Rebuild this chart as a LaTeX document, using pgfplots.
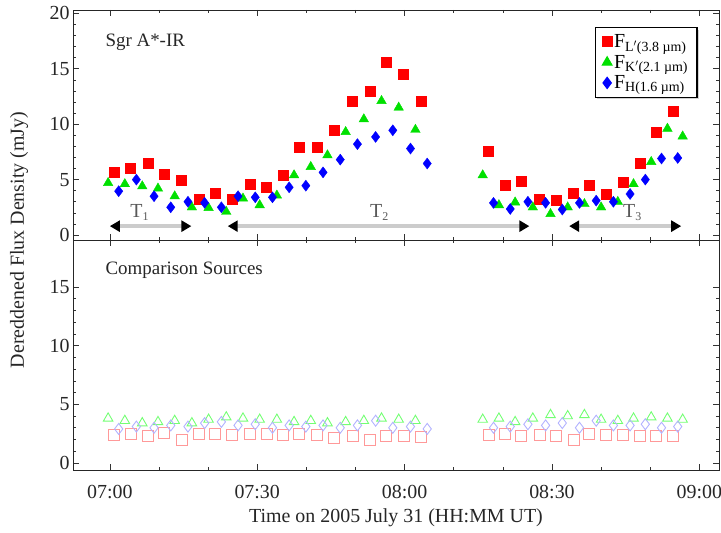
\documentclass[border=0pt]{standalone}
\usepackage{fontspec}
\setmainfont{Liberation Serif}
\usepackage{pgfplots}
\pgfplotsset{compat=1.18}
\usetikzlibrary{arrows.meta,shadows}
\definecolor{mred}{rgb}{1,0,0}
\definecolor{mgreen}{rgb}{0,0.88,0}
\definecolor{mblue}{rgb}{0,0,1}
\pgfplotsset{
  panel/.style={
    scale only axis, width=646bp, height=230bp,
    xmin=-7.5, xmax=124,
    xtick={0,30,60,90,120}, minor x tick num=2,
    minor y tick num=4,
    tick align=inside, xtick pos=both, ytick pos=both,
    major tick length=6bp, minor tick length=3bp,
    axis line style={black!85, line width=0.9pt},
    every tick/.style={black!80, line width=0.6pt},
    /pgf/number format/assume math mode=true,
    tick label style={font=\fontsize{20}{22}\selectfont, text=black!85},
  }
}
\begin{document}
\begin{tikzpicture}
\useasboundingbox (0,0) rectangle (721bp,533bp);
% ---------- top panel ----------
\begin{axis}[panel, at={(73bp,293bp)}, anchor=south west,
  ymin=-0.45, ymax=20.3, ytick={0,5,10,15,20},
  xticklabels={},
  legend style={at={(0.967,0.926)}, anchor=north east, draw=black,
    line width=1.2pt, fill=white,
    drop shadow={shadow xshift=2pt, shadow yshift=-2pt, fill=gray!70},
    font=\fontsize{20}{20}\selectfont, row sep=2pt, inner xsep=7pt, inner ysep=5pt,
    legend cell align=left},
]
\addplot[only marks, mark=square*, mark size=5bp, color=mred] coordinates {
(0.9,5.65) (4.2,6.0) (7.8,6.45) (11.0,5.45) (14.6,4.95) (18.2,3.24) (21.4,3.8)
(24.9,3.2) (28.5,4.58) (31.9,4.3) (35.2,5.4) (38.5,7.94) (42.2,7.94) (45.6,9.45)
(49.4,12.1) (52.9,13.0) (56.3,15.6) (59.8,14.5) (63.4,12.1)
(77.1,7.6) (80.5,4.45) (83.7,4.85) (87.5,3.2) (90.8,3.1) (94.4,3.8) (97.6,4.45)
(101.0,3.7) (104.5,4.8) (107.9,6.45) (111.2,9.3) (114.7,11.2)
};
\addlegendentry{F\textsubscript{\fontsize{14}{14}\selectfont L$'$(3.8 µm)}}
\addplot[only marks, mark=triangle*, mark size=5.5bp, color=mgreen] coordinates {
(-0.35,4.7) (3.05,4.6) (6.6,4.4) (9.8,4.2) (13.2,3.5) (16.7,2.5) (20.1,2.45)
(23.7,2.1) (27.1,3.3) (30.5,2.7) (34.0,3.57) (37.5,5.4) (40.9,6.15) (44.3,7.2)
(48.0,9.3) (51.7,10.45) (55.3,12.1) (58.8,11.5) (62.2,9.5)
(75.9,5.4) (79.2,2.7) (82.5,2.95) (86.1,2.5) (89.7,1.9) (93.2,2.5) (96.6,2.8)
(100.0,2.5) (103.4,3.0) (106.6,4.6) (110.2,6.6) (113.5,9.6) (116.6,8.9)
};
\addlegendentry{F\textsubscript{\fontsize{14}{14}\selectfont K$'$(2.1 µm)}}
\addplot[only marks, mark=diamond*, mark size=5.5bp, color=mblue] coordinates {
(1.8,3.95) (5.4,5.0) (9.0,3.5) (12.4,2.5) (15.9,3.0) (19.3,2.9) (22.7,2.5)
(26.1,3.5) (29.6,3.4) (33.1,3.4) (36.5,4.3) (39.9,4.45) (43.4,5.65) (46.9,6.8)
(50.4,8.2) (54.1,8.85) (57.6,9.45) (61.2,7.8) (64.6,6.45)
(78.1,2.9) (81.5,2.35) (85.1,3.0) (88.7,2.9) (92.1,2.3) (95.6,2.9) (99.0,3.1)
(102.5,3.0) (105.9,3.7) (109.0,5.0) (112.3,6.9) (115.6,6.95)
};
\addlegendentry{F\textsubscript{\fontsize{14}{14}\selectfont H(1.6 µm)}}
% interval bars
\draw[gray!40, line width=4bp, {Triangle[length=10bp,width=11bp,color=black]}-{Triangle[length=10bp,width=11bp,color=black]}]
  (axis cs:0,0.8) -- (axis cs:16.6,0.8);
\draw[gray!40, line width=4bp, {Triangle[length=10bp,width=11bp,color=black]}-{Triangle[length=10bp,width=11bp,color=black]}]
  (axis cs:24.0,0.8) -- (axis cs:85.4,0.8);
\draw[gray!40, line width=4bp, {Triangle[length=10bp,width=11bp,color=black]}-{Triangle[length=10bp,width=11bp,color=black]}]
  (axis cs:93.5,0.8) -- (axis cs:116.3,0.8);
\node[text=black!65, font=\fontsize{20}{20}\selectfont] at (axis cs:6.1,2.0) {T\textsubscript{\fontsize{12}{12}\selectfont 1}};
\node[text=black!65, font=\fontsize{20}{20}\selectfont] at (axis cs:54.9,2.0) {T\textsubscript{\fontsize{12}{12}\selectfont 2}};
\node[text=black!65, font=\fontsize{20}{20}\selectfont] at (axis cs:106.4,2.0) {T\textsubscript{\fontsize{12}{12}\selectfont 3}};
\node[anchor=west, text=black!85, font=\fontsize{19}{19}\selectfont] at (axis description cs:0.045,0.861) {Sgr A*-IR};
\end{axis}
% ---------- bottom panel ----------
\begin{axis}[panel, at={(73bp,63bp)}, anchor=south west,
  ymin=-0.6, ymax=19.0, ytick={0,5,10,15},
  xticklabels={07:00,07:30,08:00,08:30,09:00},
  xticklabel style={yshift=-12bp},
  xlabel={Time on 2005 July 31 (HH:MM UT)},
  xlabel style={font=\fontsize{20}{22}\selectfont, text=black!85,
    at={(axis description cs:0.5,0)}, anchor=center, yshift=-48bp},
]
\addplot[only marks, mark=square, mark size=5.5bp, color=red!40, mark options={line width=0.9pt}] coordinates {
(0.9,2.4) (4.2,2.5) (7.8,2.3) (11.0,2.6) (14.6,2.0) (18.2,2.5) (21.4,2.5)
(24.9,2.4) (28.5,2.5) (31.9,2.5) (35.2,2.4) (38.5,2.5) (42.2,2.4) (45.6,2.1)
(49.4,2.3) (52.9,2.0) (56.3,2.3) (59.8,2.3) (63.4,2.2)
(77.1,2.4) (80.5,2.5) (83.7,2.3) (87.5,2.4) (90.8,2.3) (94.4,2.0) (97.6,2.5)
(101.0,2.4) (104.5,2.4) (107.9,2.3) (111.2,2.3) (114.7,2.3)
};
\addplot[only marks, mark=triangle, mark size=5.5bp, color=green!55!white, mark options={line width=0.9pt}] coordinates {
(-0.35,3.8) (3.05,3.6) (6.6,3.4) (9.8,3.5) (13.2,3.6) (16.7,3.4) (20.1,3.7)
(23.7,3.9) (27.1,3.8) (30.5,3.7) (34.0,3.7) (37.5,3.5) (40.9,3.6) (44.3,3.4)
(48.0,3.5) (51.7,3.6) (55.3,3.8) (58.8,3.7) (62.2,3.6)
(75.9,3.7) (79.2,3.8) (82.5,3.5) (86.1,3.8) (89.7,4.1) (93.2,4.0) (96.6,4.1)
(100.0,3.7) (103.4,3.6) (106.6,3.8) (110.2,3.9) (113.5,3.8) (116.6,3.7)
};
\addplot[only marks, mark=diamond, mark size=5.5bp, color=blue!30, mark options={line width=0.9pt}] coordinates {
(1.8,2.9) (5.4,3.1) (9.0,3.0) (12.4,3.2) (15.9,3.1) (19.3,3.4) (22.7,3.5)
(26.1,3.2) (29.6,3.3) (33.1,3.0) (36.5,3.2) (39.9,3.1) (43.4,3.2) (46.9,3.0)
(50.4,3.2) (54.1,3.6) (57.6,3.0) (61.2,3.1) (64.6,2.9)
(78.1,3.0) (81.5,3.1) (85.1,3.3) (88.7,3.2) (92.1,3.4) (95.6,3.0) (99.0,3.6)
(102.5,3.2) (105.9,3.2) (109.0,3.3) (112.3,3.0) (115.6,3.1)
};
\node[anchor=west, text=black!85, font=\fontsize{19}{19}\selectfont] at (axis description cs:0.045,0.87) {Comparison Sources};
\end{axis}
\node[rotate=90, text=black!85, font=\fontsize{20}{22}\selectfont] at (19bp,293bp) {Dereddened Flux Density (mJy)};
\end{tikzpicture}
\end{document}
